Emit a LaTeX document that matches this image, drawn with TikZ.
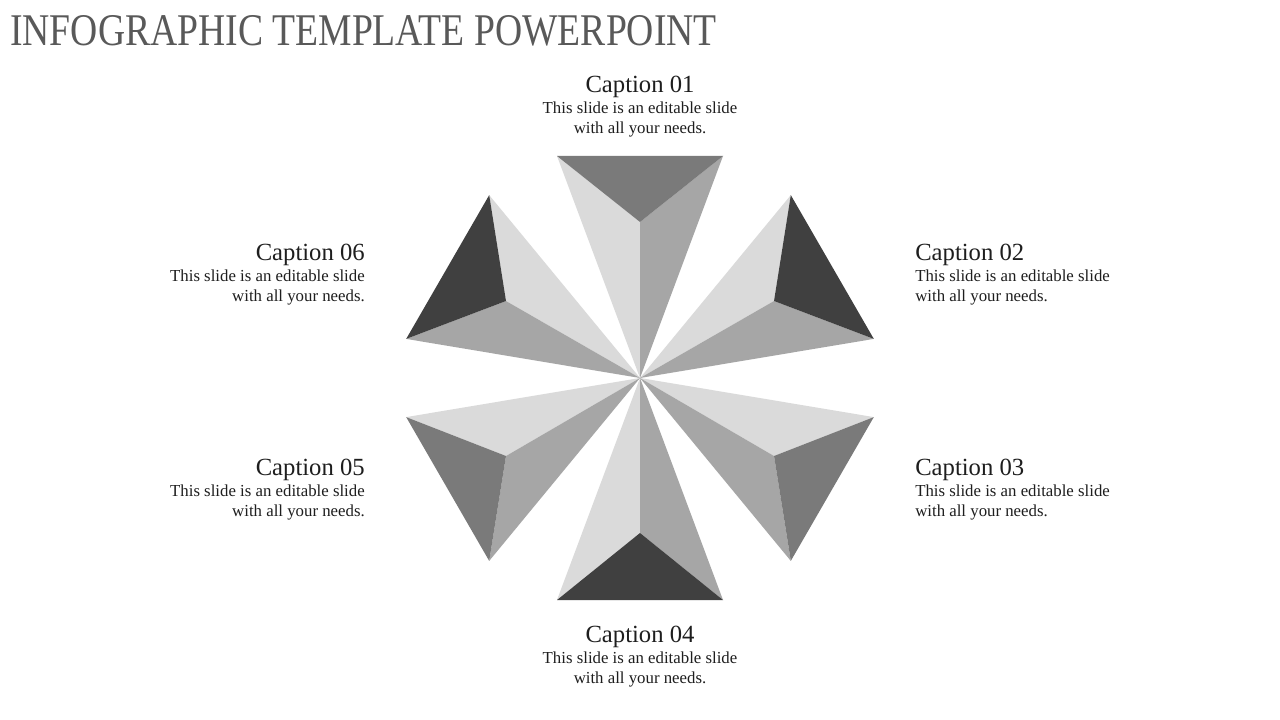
\documentclass[tikz,border=0pt]{standalone}
\usepackage{fontspec}
\usepackage{graphicx}
\setmainfont{Liberation Serif}
\definecolor{facelight}{HTML}{DADADA}
\definecolor{facemid}{HTML}{A6A6A6}
\definecolor{facedark}{HTML}{404040}
\definecolor{facegray}{HTML}{7A7A7A}
\definecolor{titlegray}{HTML}{595959}
\definecolor{captext}{HTML}{1E1E1E}
\begin{document}
\begin{tikzpicture}[x=0.75pt,y=-0.75pt,
  captitle/.style={inner sep=0pt,text=captext,font=\fontsize{18.5}{22}\selectfont},
  capdesc/.style={inner sep=0pt,text=captext,font=\fontsize{12.6}{15}\selectfont},
  face/.style={line width=0pt}]
\useasboundingbox (0,0) rectangle (1280,720);
\fill[white] (0,0) rectangle (1280,720);
\coordinate (O) at (640,378);
% top arm
\coordinate (t1) at (557,156); \coordinate (t2) at (723,156); \coordinate (ti) at (640,222);
\fill[facelight] (O) -- (t1) -- (ti) -- cycle;
\fill[facemid] (O) -- (t2) -- (ti) -- cycle;
\fill[facegray] (t1) -- (t2) -- (ti) -- cycle;
% top-right arm
\coordinate (a1) at (790.8,195.1); \coordinate (a2) at (873.8,338.9); \coordinate (ai) at (774,301);
\fill[facelight] (O) -- (a1) -- (ai) -- cycle;
\fill[facemid] (O) -- (a2) -- (ai) -- cycle;
\fill[facedark] (a1) -- (a2) -- (ai) -- cycle;
% bottom-right arm
\coordinate (b1) at (873.8,417.1); \coordinate (b2) at (790.8,560.9); \coordinate (bi) at (774,456);
\fill[facelight] (O) -- (b1) -- (bi) -- cycle;
\fill[facemid] (O) -- (b2) -- (bi) -- cycle;
\fill[facegray] (b1) -- (b2) -- (bi) -- cycle;
% bottom arm
\coordinate (c1) at (557,600); \coordinate (c2) at (723,600); \coordinate (ci) at (640,533);
\fill[facelight] (O) -- (c1) -- (ci) -- cycle;
\fill[facemid] (O) -- (c2) -- (ci) -- cycle;
\fill[facedark] (c1) -- (c2) -- (ci) -- cycle;
% bottom-left arm
\coordinate (d1) at (406.2,417.1); \coordinate (d2) at (489.2,560.9); \coordinate (di) at (506,456);
\fill[facelight] (O) -- (d1) -- (di) -- cycle;
\fill[facemid] (O) -- (d2) -- (di) -- cycle;
\fill[facegray] (d1) -- (d2) -- (di) -- cycle;
% top-left arm
\coordinate (e1) at (489.2,195.1); \coordinate (e2) at (406.2,338.9); \coordinate (ei) at (506,301);
\fill[facelight] (O) -- (e1) -- (ei) -- cycle;
\fill[facemid] (O) -- (e2) -- (ei) -- cycle;
\fill[facedark] (e1) -- (e2) -- (ei) -- cycle;
% title
\node[anchor=base west,inner sep=0pt,text=titlegray,font=\fontsize{34}{40}\selectfont] (title) at (10,46) {\scalebox{0.83}[1]{INFOGRAPHIC TEMPLATE POWERPOINT}};
% caption 01
\node[captitle,anchor=base] (cap1) at (640,93) {Caption 01};
\node[capdesc,anchor=base] (cap1a) at (640,114) {This slide is an editable slide};
\node[capdesc,anchor=base] (cap1b) at (640,134) {with all your needs.};
% caption 04
\node[captitle,anchor=base] (cap4) at (640,642) {Caption 04};
\node[capdesc,anchor=base] (cap4a) at (640,663) {This slide is an editable slide};
\node[capdesc,anchor=base] (cap4b) at (640,683) {with all your needs.};
% caption 02
\node[captitle,anchor=base west] (cap2) at (915,260) {Caption 02};
\node[capdesc,anchor=base west] (cap2a) at (915,281) {This slide is an editable slide};
\node[capdesc,anchor=base west] (cap2b) at (915,301) {with all your needs.};
% caption 03
\node[captitle,anchor=base west] (cap3) at (915,475) {Caption 03};
\node[capdesc,anchor=base west] (cap3a) at (915,496) {This slide is an editable slide};
\node[capdesc,anchor=base west] (cap3b) at (915,516) {with all your needs.};
% caption 06
\node[captitle,anchor=base east] (cap6) at (365,260) {Caption 06};
\node[capdesc,anchor=base east] (cap6a) at (365,281) {This slide is an editable slide};
\node[capdesc,anchor=base east] (cap6b) at (365,301) {with all your needs.};
% caption 05
\node[captitle,anchor=base east] (cap5) at (365,475) {Caption 05};
\node[capdesc,anchor=base east] (cap5a) at (365,496) {This slide is an editable slide};
\node[capdesc,anchor=base east] (cap5b) at (365,516) {with all your needs.};
\end{tikzpicture}
\end{document}
